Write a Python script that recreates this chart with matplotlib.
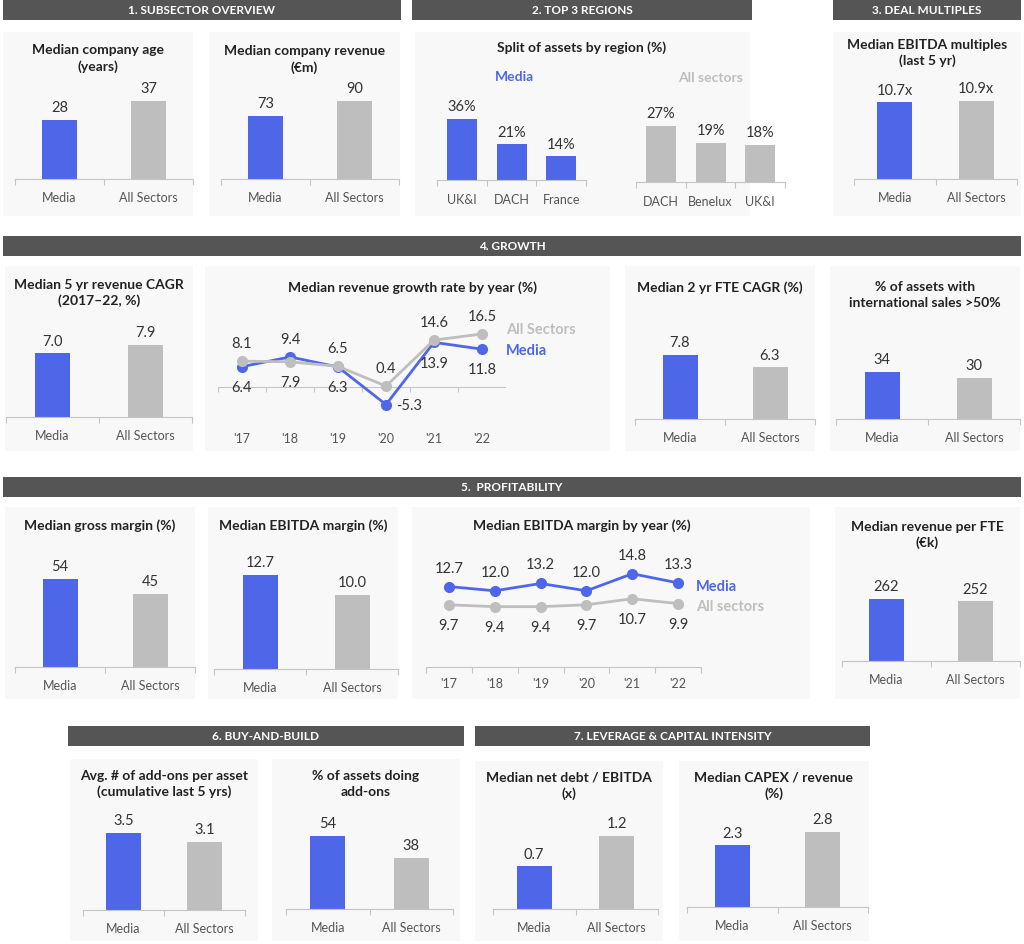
import numpy as np
import matplotlib
matplotlib.use("Agg")
import matplotlib.pyplot as plt
from matplotlib.patches import Rectangle

plt.rcParams['font.family'] = ['Lato', 'DejaVu Sans']

# ---------------- data ----------------
categories = ["Media", "All Sectors"]
company_age = [28, 37]
company_revenue = [73, 90]
region_media_labels = ["UK&I", "DACH", "France"]
region_media = [36, 21, 14]
region_all_labels = ["DACH", "Benelux", "UK&I"]
region_all = [27, 19, 18]
ebitda_multiples = [10.7, 10.9]
revenue_cagr_5yr = [7.0, 7.9]
years = ["'17", "'18", "'19", "'20", "'21", "'22"]
growth_media = [6.4, 9.4, 6.3, -5.3, 13.9, 11.8]
growth_all = [8.1, 7.9, 6.5, 0.4, 14.6, 16.5]
fte_cagr = [7.8, 6.3]
intl_sales = [34, 30]
gross_margin = [54, 45]
ebitda_margin = [12.7, 10.0]
ebitda_media = [12.7, 12.0, 13.2, 12.0, 14.8, 13.3]
ebitda_all = [9.7, 9.4, 9.4, 9.7, 10.7, 9.9]
revenue_per_fte = [262, 252]
addons_per_asset = [3.5, 3.1]
pct_doing_addons = [54, 38]
net_debt_ebitda = [0.7, 1.2]
capex_revenue = [2.3, 2.8]

# ---------------- style ----------------
BLUE = "#4E67E9"
GRAY = "#BEBEBE"
BG = "#F8F8F9"
HEADER = "#555555"
AXC = "#C4C4C4"
TXT = "#222222"
VAL = "#333333"
CAT = "#555555"

W, H = 1024, 945
fig = plt.figure(figsize=(W / 100, H / 100), dpi=100)
fig.patch.set_facecolor("white")


def fx(x):
    return x / W


def fy(y):
    return 1 - y / H


def add_rect(x0, y0, x1, y1, color):
    fig.add_artist(Rectangle((fx(x0), fy(y1)), (x1 - x0) / W, (y1 - y0) / H,
                             transform=fig.transFigure, facecolor=color,
                             edgecolor="none", zorder=0))


def axes_px(x0, y0, x1, y1):
    ax = fig.add_axes([fx(x0), fy(y1), (x1 - x0) / W, (y1 - y0) / H])
    ax.patch.set_alpha(0)
    return ax


def header(x0, y0, x1, y1, text):
    add_rect(x0, y0, x1, y1, HEADER)
    fig.text(fx((x0 + x1) / 2), fy((y0 + y1) / 2), text, ha="center", va="center",
             color="white", fontsize=8.5, fontweight="bold")


def title(x, y, text):
    fig.text(fx(x), fy(y), text, ha="center", va="center", fontsize=10,
             fontweight="bold", color=TXT, linespacing=1.35)


def bar_axes(axis_x, top_y, base_y, labels, values, colors, fmt, bar_px=35, labelpad=9):
    ax = axes_px(axis_x[0], top_y, axis_x[1], base_y)
    n = len(values)
    xs = np.arange(n)
    unit_px = (axis_x[1] - axis_x[0]) / n
    ax.bar(xs, values, width=bar_px / unit_px, color=colors)
    ax.set_xlim(-0.5, n - 0.5)
    ax.set_ylim(0, max(values))
    for s in ["top", "left", "right"]:
        ax.spines[s].set_visible(False)
    ax.spines["bottom"].set_color(AXC)
    ax.spines["bottom"].set_linewidth(0.8)
    ax.set_yticks([])
    ax.set_xticks(np.arange(n + 1) - 0.5)
    ax.set_xticklabels([])
    ax.tick_params(axis="x", which="major", length=4, color=AXC, width=0.8)
    ax.set_xticks(xs, minor=True)
    ax.set_xticklabels(labels, minor=True)
    ax.tick_params(axis="x", which="minor", length=0, pad=labelpad,
                   labelsize=9, labelcolor=CAT)
    for x, v in zip(xs, values):
        ax.annotate(fmt.format(v), (x, v), xytext=(0, 4), textcoords="offset points",
                    ha="center", va="bottom", fontsize=10.5, color=VAL,
                    annotation_clip=False)
    return ax


def bar_panel(panel, title_text, title_y, axis_x, top_y, base_y, values, fmt="{:g}"):
    add_rect(*panel, BG)
    title((panel[0] + panel[2]) / 2, title_y, title_text)
    bar_axes(axis_x, top_y, base_y, categories, values, [BLUE, GRAY], fmt)


# ---------------- headers ----------------
header(3, 1, 401, 21, "1. SUBSECTOR OVERVIEW")
header(412, 1, 752, 21, "2. TOP 3 REGIONS")
header(833, 1, 1021, 21, "3. DEAL MULTIPLES")
header(3, 237, 1021, 257, "4. GROWTH")
header(3, 478, 1021, 498, "5.  PROFITABILITY")
header(68, 727, 464, 747, "6. BUY-AND-BUILD")
header(475, 727, 870, 747, "7. LEVERAGE & CAPITAL INTENSITY")

# ---------------- row 1 ----------------
bar_panel((3, 33, 193, 217), "Median company age\n(years)", 58.5, (15, 193), 102, 180,
          company_age, "{:d}")
bar_panel((209, 33, 400, 217), "Median company revenue\n(€m)", 59.5, (221, 399), 102, 180,
          company_revenue, "{:d}")

add_rect(415, 33, 750, 217, BG)
title(582, 48, "Split of assets by region (%)")
fig.text(fx(514), fy(77), "Media", ha="center", va="center", fontsize=10,
         fontweight="bold", color=BLUE)
fig.text(fx(711), fy(78), "All sectors", ha="center", va="center", fontsize=10,
         fontweight="bold", color=GRAY)
bar_axes((437, 586), 120, 181, region_media_labels, region_media, BLUE, "{:d}%", bar_px=30)
bar_axes((636, 785), 127, 183, region_all_labels, region_all, GRAY, "{:d}%", bar_px=30)

bar_panel((833, 33, 1021, 217), "Median EBITDA multiples\n(last 5 yr)", 53, (854, 1017), 102, 180,
          ebitda_multiples, "{:.1f}x")

# ---------------- row 2 ----------------
bar_panel((5, 267, 193, 452), "Median 5 yr revenue CAGR\n(2017–22, %)", 293, (6, 192), 346, 418,
          revenue_cagr_5yr, "{:.1f}")

add_rect(205, 267, 610, 452, BG)
title(412, 288, "Median revenue growth rate by year (%)")
ax = axes_px(218, 310, 506, 425)
xs = np.arange(len(years))
ax.set_xlim(-0.5, len(years) - 0.5)
ax.set_ylim(-11.3, 24.2)
for s in ax.spines.values():
    s.set_visible(False)
ax.axhline(0, color=AXC, lw=0.8, zorder=1)
ax.vlines(np.arange(len(years) + 1) - 0.5, -1.5, 0, color=AXC, lw=0.8, zorder=1)
ax.set_yticks([])
ax.set_xticks(xs)
ax.set_xticklabels(years)
ax.tick_params(axis="x", length=0, pad=6, labelsize=9, labelcolor=CAT)
ax.plot(xs, growth_media, color=BLUE, lw=2, marker="o", ms=7, zorder=3, clip_on=False)
ax.plot(xs, growth_all, color=GRAY, lw=2, marker="o", ms=7, zorder=4, clip_on=False)
for i in xs:
    m, a = growth_media[i], growth_all[i]
    hi, lo = (m, a) if m > a else (a, m)
    ax.annotate(f"{hi:.1f}", (i, hi), xytext=(0, 13), textcoords="offset points",
                ha="center", va="center", fontsize=10.5, color=VAL)
    if lo < 0:
        ax.annotate(f"{lo:.1f}", (i, lo), xytext=(7, 0), textcoords="offset points",
                    ha="left", va="center", fontsize=10.5, color=VAL)
    else:
        ax.annotate(f"{lo:.1f}", (i, lo), xytext=(0, -14.5), textcoords="offset points",
                    ha="center", va="center", fontsize=10.5, color=VAL)
ax.annotate("All Sectors", (xs[-1], growth_all[-1]), xytext=(17, 3.6),
            textcoords="offset points", ha="left", va="center", fontsize=10.5,
            fontweight="bold", color=GRAY, annotation_clip=False)
ax.annotate("Media", (xs[-1], growth_media[-1]), xytext=(17, -0.7),
            textcoords="offset points", ha="left", va="center", fontsize=10.5,
            fontweight="bold", color=BLUE, annotation_clip=False)

bar_panel((625, 267, 815, 452), "Median 2 yr FTE CAGR (%)", 288, (635, 815), 356, 420,
          fte_cagr, "{:.1f}")
bar_panel((830, 267, 1020, 452), "% of assets with\ninternational sales >50%", 295, (836, 1020),
          373, 420, intl_sales, "{:d}")

# ---------------- row 3 ----------------
bar_panel((5, 508, 195, 700), "Median gross margin (%)", 526, (15, 195), 580, 668,
          gross_margin, "{:d}")
bar_panel((208, 508, 398, 700), "Median EBITDA margin (%)", 526, (214, 398), 576, 670,
          ebitda_margin, "{:.1f}")

add_rect(412, 508, 810, 700, BG)
title(582, 526, "Median EBITDA margin by year (%)")
ax = axes_px(426, 540, 701, 668)
ax.set_xlim(-0.5, len(years) - 0.5)
ax.set_ylim(-0.5, 20.5)
for s in ["top", "left", "right"]:
    ax.spines[s].set_visible(False)
ax.spines["bottom"].set_color(AXC)
ax.spines["bottom"].set_linewidth(0.8)
ax.set_yticks([])
ax.set_xticks(np.arange(len(years) + 1) - 0.5)
ax.set_xticklabels([])
ax.tick_params(axis="x", which="major", length=4, color=AXC, width=0.8)
ax.set_xticks(xs, minor=True)
ax.set_xticklabels(years, minor=True)
ax.tick_params(axis="x", which="minor", length=0, pad=7, labelsize=9, labelcolor=CAT)
ax.plot(xs, ebitda_media, color=BLUE, lw=2, marker="o", ms=7, zorder=3)
ax.plot(xs, ebitda_all, color=GRAY, lw=2, marker="o", ms=7, zorder=3)
for i in xs:
    ax.annotate(f"{ebitda_media[i]:.1f}", (i, ebitda_media[i]), xytext=(0, 13.7),
                textcoords="offset points", ha="center", va="center", fontsize=10.5, color=VAL)
    ax.annotate(f"{ebitda_all[i]:.1f}", (i, ebitda_all[i]), xytext=(0, -14.4),
                textcoords="offset points", ha="center", va="center", fontsize=10.5, color=VAL)
ax.annotate("Media", (xs[-1], ebitda_media[-1]), xytext=(13, -2),
            textcoords="offset points", ha="left", va="center", fontsize=10.5,
            fontweight="bold", color=BLUE, annotation_clip=False)
ax.annotate("All sectors", (xs[-1], ebitda_all[-1]), xytext=(13, -1.5),
            textcoords="offset points", ha="left", va="center", fontsize=10.5,
            fontweight="bold", color=GRAY, annotation_clip=False)

bar_panel((835, 508, 1020, 700), "Median revenue per FTE\n(€k)", 535, (842, 1020), 600, 662,
          revenue_per_fte, "{:d}")

# ---------------- row 4 ----------------
bar_panel((70, 760, 258, 942), "Avg. # of add-ons per asset\n(cumulative last 5 yrs)", 784,
          (83, 245), 834, 911, addons_per_asset, "{:.1f}")
bar_panel((272, 760, 460, 942), "% of assets doing\nadd-ons", 784, (286, 453), 837, 910,
          pct_doing_addons, "{:d}")
bar_panel((475, 762, 663, 942), "Median net debt / EBITDA\n(x)", 785.5, (493, 658), 837, 910,
          net_debt_ebitda, "{:.1f}")
bar_panel((679, 762, 869, 942), "Median CAPEX / revenue\n(%)", 785.5, (687, 868), 833, 908,
          capex_revenue, "{:.1f}")

fig.savefig("out.png", dpi=100, facecolor="white")
